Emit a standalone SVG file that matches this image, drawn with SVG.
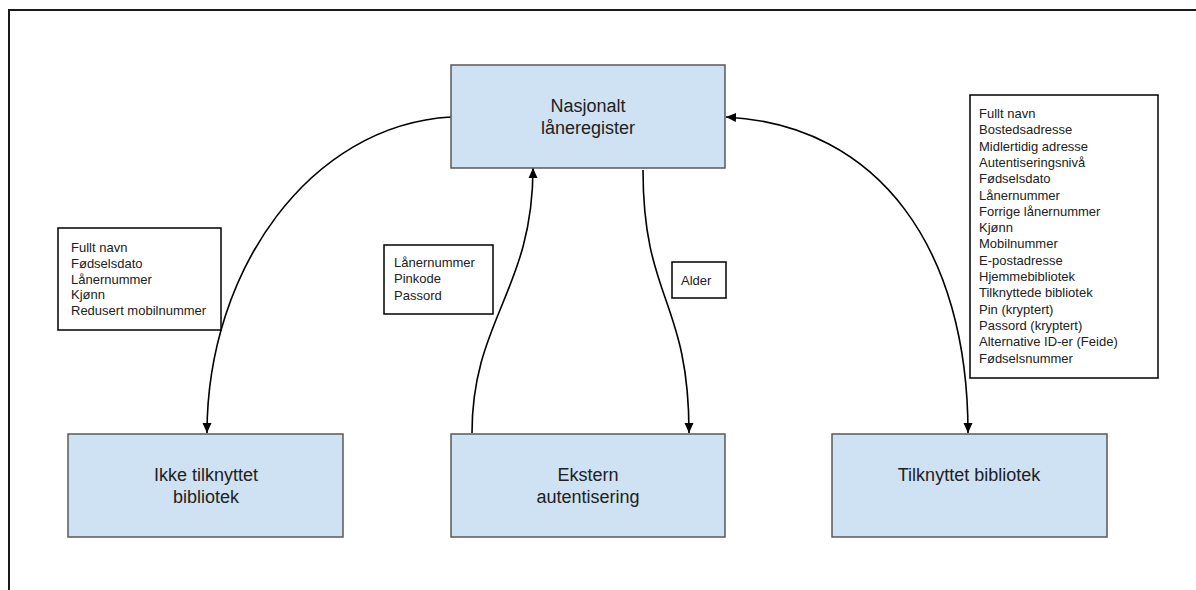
<svg xmlns="http://www.w3.org/2000/svg" width="1196" height="590" viewBox="0 0 1196 590">
<style>
.frame{fill:none;stroke:#1a1a1a;stroke-width:2}
.node rect{fill:#cfe2f3;stroke:#595959;stroke-width:1.5}
.node text{font-family:"Liberation Sans",Arial,sans-serif;font-size:18px;fill:#212121;text-anchor:middle}
.note rect{fill:#ffffff;stroke:#000000;stroke-width:1.5}
.note text{font-family:"Liberation Sans",Arial,sans-serif;font-size:13px;fill:#212121}
.conn path{fill:none;stroke:#000000;stroke-width:1.6}
</style>
<defs>
<marker id="ah" viewBox="0 0 10 10" refX="10" refY="5" markerWidth="10" markerHeight="10" markerUnits="userSpaceOnUse" orient="auto-start-reverse">
<path d="M0,0.5 L10,5 L0,9.5 Z" fill="#000000"/>
</marker>
</defs>
<rect x="0" y="0" width="1196" height="590" fill="#ffffff"/>
<path class="frame" d="M9,590 V10 H1196"/>

<g id="connectors" class="conn">
<path d="M451,117 C310,125 207,270 207,433" marker-end="url(#ah)"/>
<path d="M472,433 C472,320 533,290 533,168" marker-end="url(#ah)"/>
<path d="M643,170 C643,300 689,300 689,433" marker-end="url(#ah)"/>
<path d="M726,117 C880,125 968,250 968,433" marker-start="url(#ah)" marker-end="url(#ah)"/>
</g>

<g id="node-nasjonalt" class="node">
<rect x="451" y="65" width="274" height="103"/>
<text x="588" y="112">Nasjonalt</text>
<text x="588" y="134">låneregister</text>
</g>
<g id="node-ikke" class="node">
<rect x="68" y="434" width="275" height="103"/>
<text x="206" y="481">Ikke tilknyttet</text>
<text x="206" y="503">bibliotek</text>
</g>
<g id="node-ekstern" class="node">
<rect x="451" y="434" width="274" height="103"/>
<text x="588" y="481">Ekstern</text>
<text x="588" y="503">autentisering</text>
</g>
<g id="node-tilknyttet" class="node">
<rect x="832" y="434" width="275" height="103"/>
<text x="969" y="481">Tilknyttet bibliotek</text>
</g>

<g id="note-left" class="note">
<rect x="58" y="228" width="163" height="102"/>
<text x="71" y="252">Fullt navn</text>
<text x="71" y="268">Fødselsdato</text>
<text x="71" y="284">Lånernummer</text>
<text x="71" y="299">Kjønn</text>
<text x="71" y="315">Redusert mobilnummer</text>
</g>
<g id="note-middle" class="note">
<rect x="384" y="245" width="109" height="69"/>
<text x="394" y="267">Lånernummer</text>
<text x="394" y="283">Pinkode</text>
<text x="394" y="300">Passord</text>
</g>
<g id="note-alder" class="note">
<rect x="672" y="262" width="54" height="36"/>
<text x="681" y="285">Alder</text>
</g>
<g id="note-right" class="note">
<rect x="970" y="95" width="188" height="283"/>
<text x="979" y="118">Fullt navn</text>
<text x="979" y="134">Bostedsadresse</text>
<text x="979" y="151">Midlertidig adresse</text>
<text x="979" y="167">Autentiseringsnivå</text>
<text x="979" y="183">Fødselsdato</text>
<text x="979" y="200">Lånernummer</text>
<text x="979" y="216">Forrige lånernummer</text>
<text x="979" y="232">Kjønn</text>
<text x="979" y="248">Mobilnummer</text>
<text x="979" y="265">E-postadresse</text>
<text x="979" y="281">Hjemmebibliotek</text>
<text x="979" y="297">Tilknyttede bibliotek</text>
<text x="979" y="314">Pin (kryptert)</text>
<text x="979" y="330">Passord (kryptert)</text>
<text x="979" y="346">Alternative ID-er (Feide)</text>
<text x="979" y="363">Fødselsnummer</text>
</g>
</svg>
